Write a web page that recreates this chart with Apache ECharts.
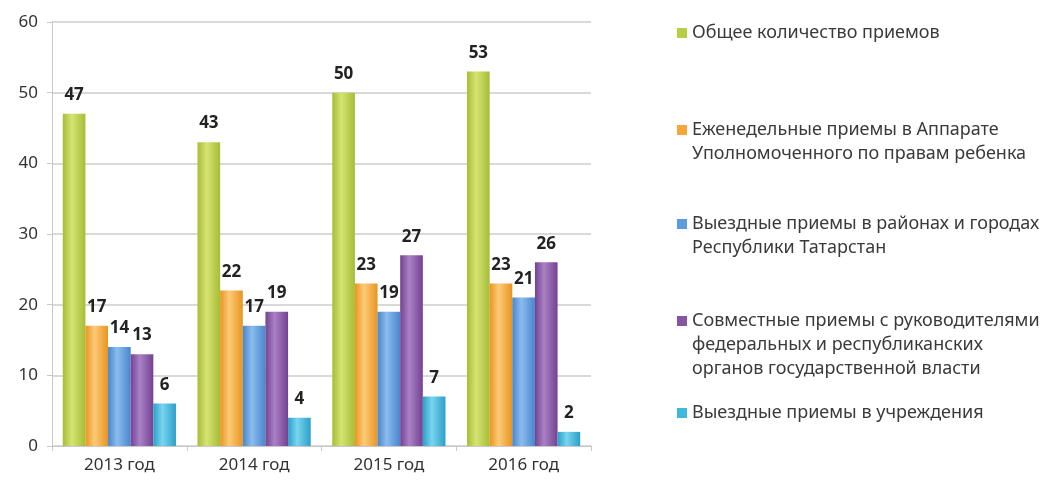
<!DOCTYPE html>
<html>
<head>
<meta charset="utf-8">
<script src="https://cdn.jsdelivr.net/npm/echarts@6/dist/echarts.min.js"></script>
<style>
    html, body { margin: 0; padding: 0; background: #fff; }
    #chart { width: 1041px; height: 483px; }
</style>
</head>
<body>
<div id="chart"></div>
<script>
    // данные
    var categories = ['2013 год', '2014 год', '2015 год', '2016 год'];
    var seriesNames = [
        'Общее количество приемов',
        'Еженедельные приемы в Аппарате\nУполномоченного по правам ребенка',
        'Выездные приемы в районах и городах\nРеспублики Татарстан',
        'Совместные приемы с руководителями\nфедеральных и республиканских\nорганов государственной власти',
        'Выездные приемы в учреждения'
    ];
    var totalData = [47, 43, 50, 53];
    var weeklyData = [17, 22, 23, 23];
    var districtData = [14, 17, 19, 21];
    var jointData = [13, 19, 27, 26];
    var institutionData = [6, 4, 7, 2];
    var yTicks = [0, 10, 20, 30, 40, 50, 60];

    var seriesData = [totalData, weeklyData, districtData, jointData, institutionData];
    // цвета: край, середина, основной
    var colors = [
        ['#a6bd36', '#d6e373', '#b7cd42'],
        ['#e8951f', '#fdca78', '#f6a73c'],
        ['#4886cb', '#8bbcee', '#5b9be0'],
        ['#734192', '#aa81c5', '#8753a5'],
        ['#2c9fc8', '#78d5ef', '#40b8dd']
    ];
    var legendTops = [33, 130, 224, 321, 413];
    var lh = 24;

    var chart = echarts.init(document.getElementById('chart'));

    function grad(c) {
        return new echarts.graphic.LinearGradient(0, 0, 1, 0, [
            {offset: 0, color: c[0]},
            {offset: 0.4, color: c[1]},
            {offset: 1, color: c[0]}
        ]);
    }

    // каждая запись легенды отдельно, чтобы значок стоял у первой строки
    var legends = seriesNames.map(function (name, i) {
        var n = name.split('\n').length;
        return {
            orient: 'vertical',
            left: 677,
            top: legendTops[i] - (2 * n - 1) * lh / 2,
            padding: 0,
            itemWidth: 10,
            itemHeight: 10,
            itemGap: 0,
            icon: 'rect',
            data: [{name: name, itemStyle: {color: colors[i][2]}}],
            formatter: function (s) {
                return new Array(n).join('\n') + s;
            },
            textStyle: {
                fontFamily: 'Noto Sans',
                fontSize: 18,
                color: '#3a3a3a',
                lineHeight: lh
            }
        };
    });

    var series = seriesNames.map(function (name, i) {
        return {
            name: name,
            type: 'bar',
            data: seriesData[i],
            barGap: 0,
            barCategoryGap: '16%',
            itemStyle: {color: grad(colors[i])},
            label: {
                show: true,
                position: 'top',
                distance: 10,
                fontFamily: 'Noto Sans',
                fontWeight: 'bold',
                fontSize: 17,
                color: '#222'
            }
        };
    });

    var option = {
        animation: false,
        legend: legends,
        grid: {left: 52, right: 450, top: 22, bottom: 37},
        xAxis: {
            type: 'category',
            data: categories,
            axisLine: {lineStyle: {color: '#c8c8c8'}},
            axisTick: {show: true, length: 5, lineStyle: {color: '#c8c8c8'}},
            axisLabel: {fontFamily: 'Noto Sans', fontSize: 17, color: '#333', margin: 11}
        },
        yAxis: {
            type: 'value',
            min: yTicks[0],
            max: yTicks[yTicks.length - 1],
            interval: 10,
            axisLine: {show: true, lineStyle: {color: '#c8c8c8'}},
            axisTick: {show: true, length: 5, lineStyle: {color: '#c8c8c8'}},
            splitLine: {lineStyle: {color: '#d9d9d9', width: 2}},
            axisLabel: {fontFamily: 'Noto Sans', fontSize: 17, color: '#333', margin: 14}
        },
        series: series
    };

    chart.setOption(option);
</script>
</body>
</html>
